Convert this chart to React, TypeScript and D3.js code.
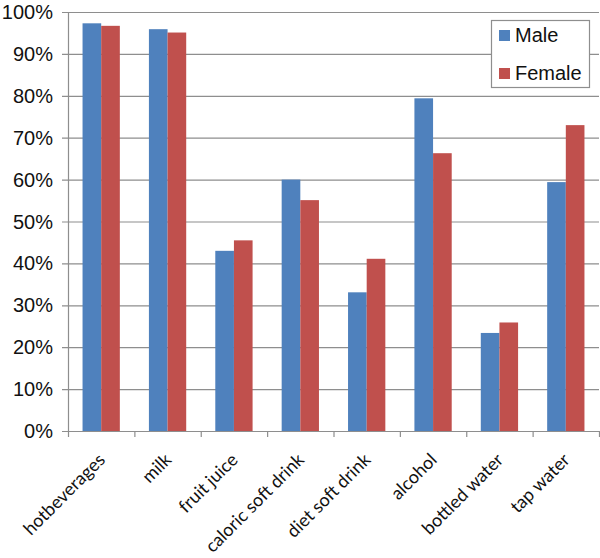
import React, { useEffect, useRef } from 'react';
import * as d3 from 'd3';

const categories = ['hotbeverages', 'milk', 'fruit juice', 'caloric soft drink', 'diet soft drink', 'alcohol', 'bottled water', 'tap water'];
const maleValues = [97.3, 95.9, 43.0, 60.0, 33.1, 79.4, 23.4, 59.4];
const femaleValues = [96.7, 95.1, 45.5, 55.1, 41.1, 66.3, 25.9, 73.0];
const seriesNames = ['Male', 'Female'];
const seriesColors = ['#4F81BD', '#C0504D'];
const yTicks = [0, 10, 20, 30, 40, 50, 60, 70, 80, 90, 100];

const W = 600, H = 558;

export default function App() {
  const ref = useRef<SVGSVGElement>(null);

  useEffect(() => {
    const svg = d3.select(ref.current);
    svg.selectAll('*').remove();

    const left = 68, right = 599, top = 12, bottom = 431;

    const x = d3.scaleBand().domain(categories).range([left, right]).paddingInner(0).paddingOuter(0);
    // two bars touching, centred in each category
    const inner = d3.scaleBand().domain(seriesNames).range([0, x.bandwidth()]).paddingInner(0).paddingOuter(0.78);
    const y = d3.scaleLinear().domain([0, 100]).range([bottom, top]);

    const grid = '#8e8e8e';

    // gridlines + y ticks
    svg.append('g').selectAll('line').data(yTicks).enter().append('line')
      .attr('x1', left - 6).attr('x2', right)
      .attr('y1', d => y(d) + 0.5).attr('y2', d => y(d) + 0.5)
      .attr('stroke', grid).attr('stroke-width', 1.2);

    svg.append('g').selectAll('text').data(yTicks).enter().append('text')
      .attr('x', 53).attr('y', d => y(d) + 7)
      .attr('text-anchor', 'end')
      .attr('font-family', '"Liberation Sans", Arial, sans-serif')
      .attr('font-size', 20)
      .attr('fill', '#111')
      .text(d => d + '%');

    // bars
    const data = categories.map((c, i) => ({ c, vals: [maleValues[i], femaleValues[i]] }));
    const groups = svg.append('g').selectAll('g').data(data).enter().append('g')
      .attr('transform', d => `translate(${x(d.c)},0)`);
    groups.selectAll('rect').data(d => d.vals.map((v, k) => ({ v, k }))).enter().append('rect')
      .attr('x', d => inner(seriesNames[d.k]) as number)
      .attr('width', inner.bandwidth())
      .attr('y', d => y(d.v))
      .attr('height', d => bottom - y(d.v))
      .attr('fill', d => seriesColors[d.k]);

    // axes lines
    svg.append('line').attr('x1', left + 0.5).attr('x2', left + 0.5).attr('y1', top).attr('y2', bottom)
      .attr('stroke', grid).attr('stroke-width', 1.2);
    svg.append('line').attr('x1', left).attr('x2', right).attr('y1', bottom + 0.5).attr('y2', bottom + 0.5)
      .attr('stroke', grid).attr('stroke-width', 1.2);
    const xTickPos = categories.map(c => x(c) as number).concat([right]);
    svg.append('g').selectAll('line').data(xTickPos).enter().append('line')
      .attr('x1', d => d + 0.5).attr('x2', d => d + 0.5)
      .attr('y1', bottom).attr('y2', bottom + 6)
      .attr('stroke', grid).attr('stroke-width', 1.2);

    // x labels
    svg.append('g').selectAll('text').data(categories).enter().append('text')
      .attr('transform', d => `translate(${(x(d) as number) + x.bandwidth() / 2 + 5},${bottom + 30}) rotate(-45)`)
      .attr('text-anchor', 'end')
      .attr('font-family', 'Lato, "Open Sans", sans-serif')
      .attr('font-size', 18)
      .attr('fill', '#111')
      .text(d => d);

    // legend
    const lg = svg.append('g');
    lg.append('rect').attr('x', 491.5).attr('y', 20.5).attr('width', 98).attr('height', 67)
      .attr('fill', '#fff').attr('stroke', '#8e8e8e').attr('stroke-width', 1.2);
    seriesNames.forEach((s, i) => {
      const cy = 35 + i * 38;
      lg.append('rect').attr('x', 499).attr('y', cy - 5).attr('width', 11).attr('height', 11)
        .attr('fill', seriesColors[i]);
      lg.append('text').attr('x', 515).attr('y', cy + 7)
        .attr('font-family', '"Liberation Sans", Arial, sans-serif')
        .attr('font-size', 20)
        .attr('fill', '#111')
        .text(s);
    });
  }, []);

  return (
    <svg ref={ref} width={W} height={H}
      style={{ position: 'absolute', left: 0, top: 0, background: '#fff' }} />
  );
}
